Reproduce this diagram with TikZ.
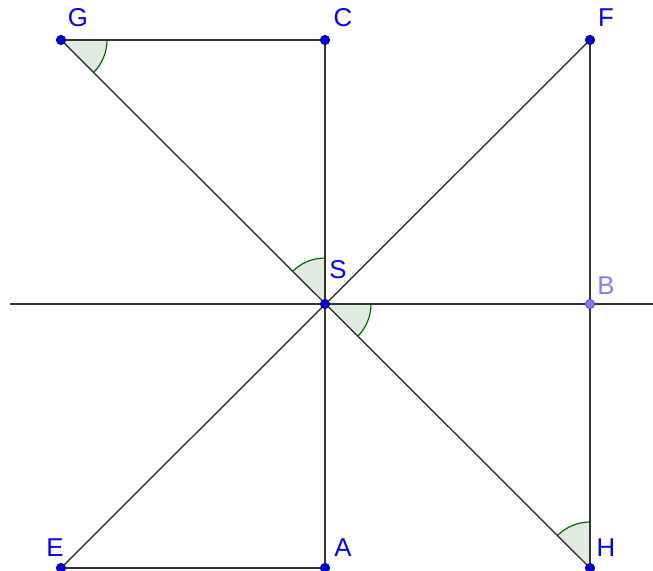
\documentclass[tikz,border=0pt]{standalone}
\usepackage{fontspec}
\setmainfont{Liberation Sans}
\usetikzlibrary{angles}
\definecolor{cline}{HTML}{333333}
\definecolor{cpt}{HTML}{0000E0}
\definecolor{clbl}{HTML}{0000FF}
\definecolor{cpale}{HTML}{7D7DFF}
\definecolor{carc}{HTML}{006400}
\tikzset{
  every picture/.style={line width=1.2pt},
  seg/.style={draw=cline},
  pt/.style={circle, draw=#1!60!black, fill=#1, inner sep=0pt, minimum size=0.28cm, line width=0.6pt},
  pt/.default=cpt,
  lbl/.style={text=#1, font=\fontsize{22}{24}\selectfont, inner sep=0pt},
  lbl/.default=clbl,
  ang/.style={draw=carc, fill=carc!12, angle radius=1.38cm, line width=1pt},
}

\begin{document}
\begin{tikzpicture}[x=0.03cm, y=0.03cm]
  \useasboundingbox (0,0) rectangle (653,571);
  % points
  \coordinate (S) at (325,267);
  \coordinate (C) at (325,531);
  \coordinate (G) at (61,531);
  \coordinate (F) at (590,531);
  \coordinate (B) at (590,267);
  \coordinate (H) at (590,3);
  \coordinate (A) at (325,3);
  \coordinate (E) at (61,3);
  \coordinate (xl) at (10,267);
  \coordinate (xr) at (653,267);
  % angles
  \pic[ang] {angle=S--G--C};
  \pic[ang] {angle=C--S--G};
  \pic[ang] {angle=H--S--B};
  \pic[ang] {angle=B--H--S};
  % lines
  \draw[seg] (xl) -- (xr);
  \draw[seg] (G) -- (C);
  \draw[seg] (C) -- (A);
  \draw[seg] (E) -- (A);
  \draw[seg] (F) -- (H);
  \draw[seg] (G) -- (H);
  \draw[seg] (E) -- (F);
  % dots and labels
  \foreach \p in {S,C,G,F,H,A,E}
    \node[pt] (d\p) at (\p) {};
  \node[pt=cpale] (dB) at (B) {};
  \node[lbl] (lG) at (78,553) {G};
  \node[lbl] (lC) at (343,553) {C};
  \node[lbl] (lF) at (606,553) {F};
  \node[lbl] (lS) at (338,301) {S};
  \node[lbl=cpale] (lB) at (606,285) {B};
  \node[lbl] (lH) at (606,23) {H};
  \node[lbl] (lA) at (343,23) {A};
  \node[lbl] (lE) at (55,23) {E};
\end{tikzpicture}
\end{document}
